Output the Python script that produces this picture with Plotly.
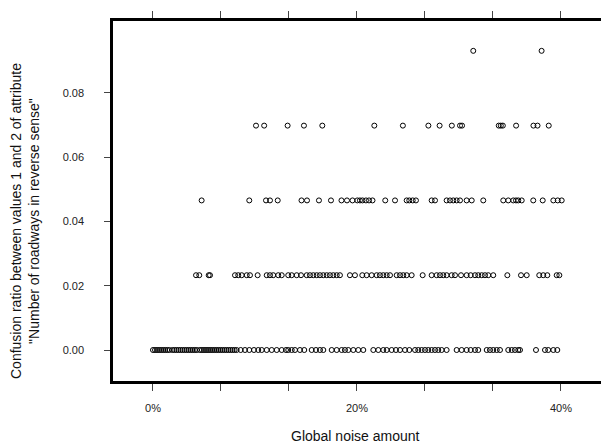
import plotly.graph_objects as go

# Noise amounts (%) for each confusion-ratio level
level_values = [0.0, 1/43, 2/43, 3/43, 4/43]

x_level0 = [0.0, 0.2, 0.4, 0.6, 0.8, 1.0, 1.2, 1.4, 1.6, 1.9, 2.1, 2.3, 2.5, 2.7, 2.9,
            3.1, 3.3, 3.5, 3.7, 3.9, 4.1, 4.3, 4.6, 4.8, 5.0, 5.2, 5.4, 5.6, 5.8, 6.0,
            6.2, 6.4, 6.6, 6.8, 7.0, 7.2, 7.4, 7.6, 7.8, 8.0, 8.2,
            8.60, 9.02, 9.44, 9.90, 10.32, 10.66, 11.15, 11.64, 12.13, 12.62, 13.04,
            13.26, 13.60, 13.92, 14.41, 14.83, 15.56, 15.98, 16.37, 16.70, 17.52, 18.01,
            18.50, 18.82, 19.15, 19.64, 20.13, 20.62, 21.60, 22.09, 22.58, 22.91, 23.40,
            23.82, 24.22, 24.71, 25.13, 25.69, 26.01, 26.34, 26.67, 26.99, 27.32, 27.65,
            27.97, 28.30, 28.79, 29.77, 30.26, 30.75, 31.15, 31.57, 31.89, 32.72, 33.04,
            33.36, 33.70, 34.02, 34.83, 35.17, 35.49, 35.81, 35.98, 37.55, 38.43, 38.75,
            39.25, 39.64]

x_level1 = [4.22, 4.54, 5.46, 5.59, 8.04, 8.36, 8.70, 9.19, 9.51, 10.26, 11.15, 11.47,
            11.79, 12.28, 12.62, 13.26, 13.60, 14.09, 14.51, 15.07, 15.39, 15.72, 16.05,
            16.37, 16.70, 17.03, 17.35, 17.68, 18.01, 18.33, 19.31, 19.80, 20.52, 20.95,
            21.44, 21.93, 22.25, 22.58, 22.91, 23.24, 23.89, 24.22, 24.54, 24.87, 25.36,
            26.44, 27.32, 27.81, 28.14, 28.46, 28.79, 29.28, 29.61, 30.20, 30.75, 31.15,
            31.57, 31.89, 32.23, 32.55, 32.87, 33.36, 34.74, 36.08, 36.64, 37.87, 38.26,
            38.66, 39.58, 39.84]

x_level2 = [4.77, 9.44, 11.08, 11.47, 12.23, 14.56, 15.10, 16.27, 17.45, 18.48, 19.02,
            19.56, 20.03, 20.29, 20.54, 20.88, 21.18, 21.52, 22.77, 23.73, 24.87, 25.13,
            25.46, 25.78, 27.32, 27.65, 28.79, 29.12, 29.44, 29.77, 30.10, 30.75, 31.25,
            32.38, 34.34, 34.83, 35.32, 35.59, 35.81, 36.15, 37.28, 38.21, 39.25, 39.68,
            40.07]

x_level3 = [10.1, 10.9, 13.2, 14.8, 16.6, 21.7, 24.5, 27.0, 28.1, 29.3, 30.1, 30.3,
            33.9, 34.1, 34.3, 35.6, 37.3, 37.7, 38.8]

x_level4 = [31.4, 38.1]

x_tick_vals = [0, 20/3, 40/3, 20, 80/3, 100/3, 40]
x_tick_text = ["0%", "", "", "20%", "", "", "40%"]
y_tick_vals = [0.0, 0.02, 0.04, 0.06, 0.08]
y_tick_text = ["0.00", "0.02", "0.04", "0.06", "0.08"]

xs_all = []
ys_all = []
for lv, xs in zip(level_values, [x_level0, x_level1, x_level2, x_level3, x_level4]):
    xs_all.extend(xs)
    ys_all.extend([lv] * len(xs))

fig = go.Figure()
fig.add_trace(go.Scatter(
    x=xs_all, y=ys_all, mode="markers",
    marker=dict(symbol="circle-open", size=5, color="black", line=dict(width=1, color="black")),
    showlegend=False, hoverinfo="skip",
))

# Figure is a bit wider than the window so the panel runs off the right edge, as in the reference
FIG_W = 625
PLOT_L = 113
font_family = "Liberation Sans, Arial, sans-serif"
tick_font = dict(family=font_family, size=11, color="#222")
fig.update_layout(
    template="none",
    width=FIG_W, height=448,
    margin=dict(l=PLOT_L, r=0, t=21, b=67, pad=0),
    paper_bgcolor="white", plot_bgcolor="white",
    font=dict(family=font_family, size=11, color="#222"),
    xaxis=dict(
        range=[-3.92, -3.92 + (FIG_W - PLOT_L) / 10.2], tickvals=x_tick_vals, ticktext=x_tick_text,
        showgrid=False, zeroline=False, showline=True, linewidth=2.5, linecolor="black",
        mirror="allticks", ticks="outside", ticklen=7, tickwidth=1, tickcolor="#444",
        ticklabelstandoff=8, tickfont=tick_font,
    ),
    yaxis=dict(
        range=[-0.00964, 0.1023], tickvals=y_tick_vals, ticktext=y_tick_text,
        showgrid=False, zeroline=False, showline=True, linewidth=2.5, linecolor="black",
        mirror=False, ticks="outside", ticklen=6, tickwidth=1, tickcolor="#444",
        ticklabelstandoff=18, tickfont=tick_font,
    ),
    annotations=[
        dict(text="Global noise amount", xref="paper", yref="paper",
             x=(355 - PLOT_L) / (FIG_W - PLOT_L), y=-(436 - 381) / 360, showarrow=False,
             xanchor="center", yanchor="middle", font=dict(family=font_family, size=14, color="#111")),
        dict(text="Confusion ratio between values 1 and 2 of attribute<br>\"Number of roadways in reverse sense\"",
             xref="paper", yref="paper", x=(25 - PLOT_L) / (FIG_W - PLOT_L), y=(381 - 221) / 360,
             showarrow=False, textangle=-90, xanchor="center", yanchor="middle",
             font=dict(family=font_family, size=14, color="#111")),
    ],
)

fig.write_html(
    "out.html",
    config={"displayModeBar": False},
    post_script="document.body.style.margin='0';document.body.style.padding='0';"
                "document.body.style.overflow='hidden';document.documentElement.style.overflow='hidden';",
)
